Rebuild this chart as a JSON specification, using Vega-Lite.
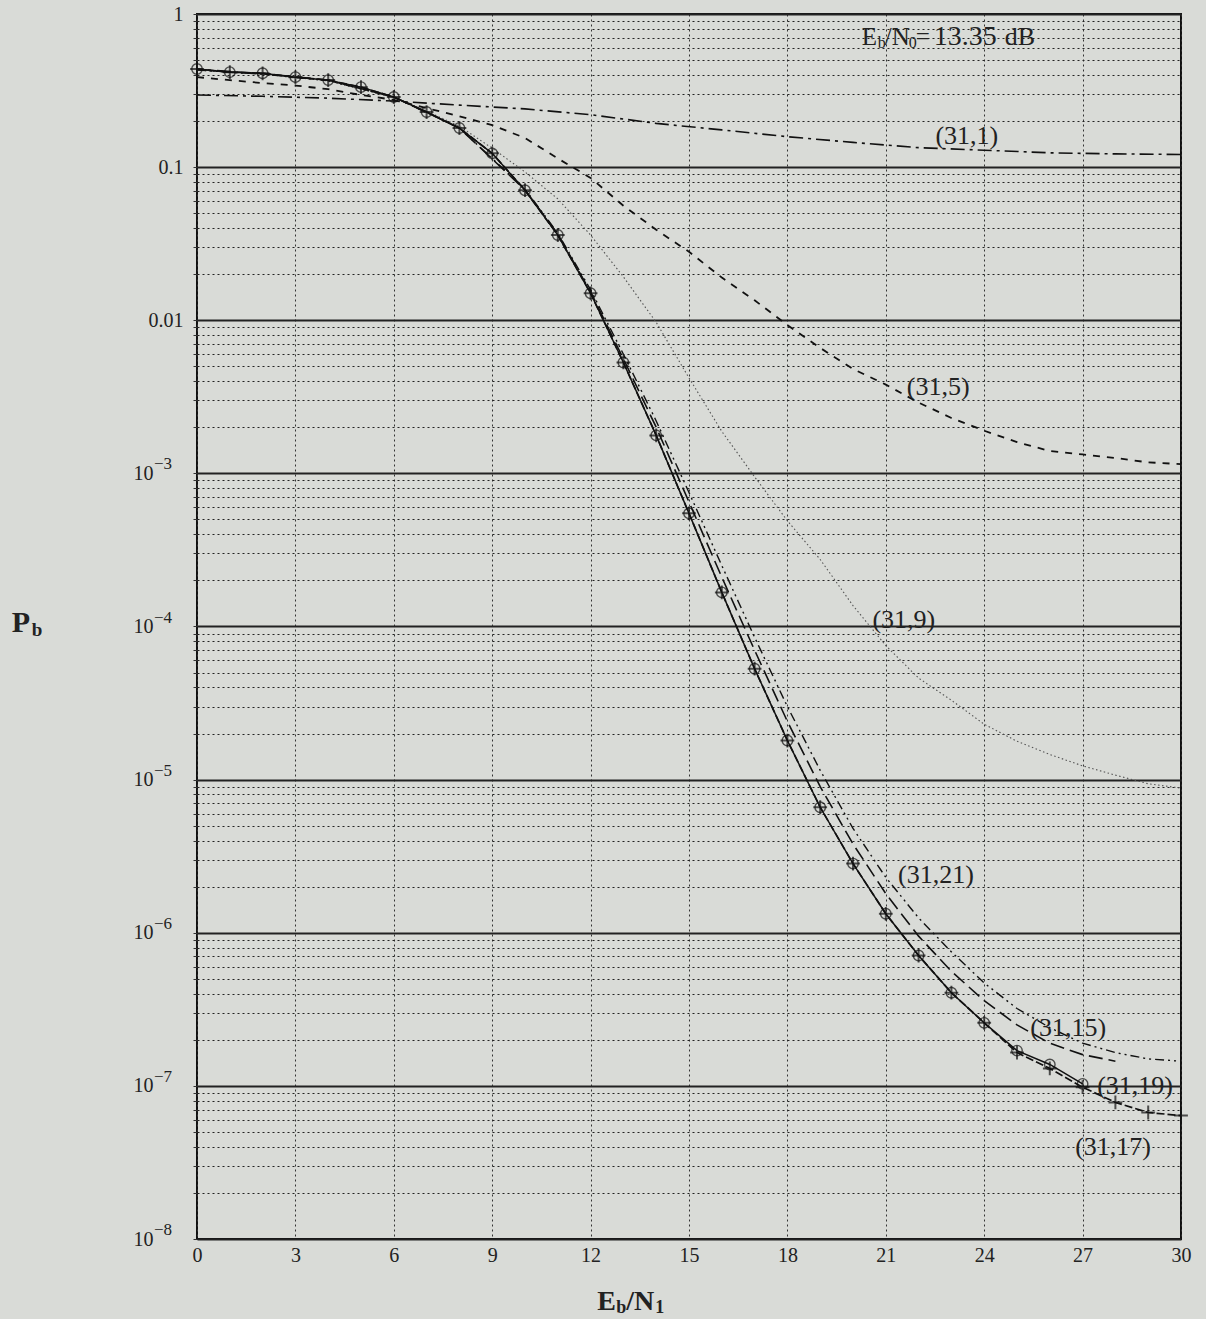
{
  "$schema": "https://vega.github.io/schema/vega-lite/v6.json",
  "width": 984,
  "height": 1225,
  "autosize": {"type": "none"},
  "padding": {"left": 197, "top": 14, "right": 25, "bottom": 80},
  "background": "#d9dbd7",
  "config": {
    "font": "Liberation Serif",
    "view": {"stroke": "#111111", "strokeWidth": 2},
    "axis": {"domain": false, "labelFont": "Liberation Serif", "labelColor": "#222222"}
  },
  "datasets": {
    "curves": [
      {"code": "(31,1)", "ebn": 0, "pb": 0.296},
      {"code": "(31,1)", "ebn": 2, "pb": 0.29},
      {"code": "(31,1)", "ebn": 4, "pb": 0.282},
      {"code": "(31,1)", "ebn": 6, "pb": 0.27},
      {"code": "(31,1)", "ebn": 8, "pb": 0.254},
      {"code": "(31,1)", "ebn": 10, "pb": 0.24},
      {"code": "(31,1)", "ebn": 12, "pb": 0.22},
      {"code": "(31,1)", "ebn": 14, "pb": 0.193},
      {"code": "(31,1)", "ebn": 16, "pb": 0.175},
      {"code": "(31,1)", "ebn": 18, "pb": 0.158},
      {"code": "(31,1)", "ebn": 20, "pb": 0.145},
      {"code": "(31,1)", "ebn": 22, "pb": 0.134},
      {"code": "(31,1)", "ebn": 24, "pb": 0.129},
      {"code": "(31,1)", "ebn": 26, "pb": 0.124},
      {"code": "(31,1)", "ebn": 28, "pb": 0.122},
      {"code": "(31,1)", "ebn": 30, "pb": 0.121},

      {"code": "(31,5)", "ebn": 0, "pb": 0.387},
      {"code": "(31,5)", "ebn": 1, "pb": 0.37},
      {"code": "(31,5)", "ebn": 2, "pb": 0.354},
      {"code": "(31,5)", "ebn": 3, "pb": 0.341},
      {"code": "(31,5)", "ebn": 4, "pb": 0.323},
      {"code": "(31,5)", "ebn": 5, "pb": 0.296},
      {"code": "(31,5)", "ebn": 6, "pb": 0.275},
      {"code": "(31,5)", "ebn": 7, "pb": 0.243},
      {"code": "(31,5)", "ebn": 8, "pb": 0.215},
      {"code": "(31,5)", "ebn": 9, "pb": 0.188},
      {"code": "(31,5)", "ebn": 10, "pb": 0.155},
      {"code": "(31,5)", "ebn": 11, "pb": 0.114},
      {"code": "(31,5)", "ebn": 12, "pb": 0.085},
      {"code": "(31,5)", "ebn": 13, "pb": 0.056},
      {"code": "(31,5)", "ebn": 14, "pb": 0.039},
      {"code": "(31,5)", "ebn": 15, "pb": 0.028},
      {"code": "(31,5)", "ebn": 16, "pb": 0.019},
      {"code": "(31,5)", "ebn": 17, "pb": 0.0135},
      {"code": "(31,5)", "ebn": 18, "pb": 0.0093},
      {"code": "(31,5)", "ebn": 19, "pb": 0.0066},
      {"code": "(31,5)", "ebn": 20, "pb": 0.0048},
      {"code": "(31,5)", "ebn": 21, "pb": 0.0038},
      {"code": "(31,5)", "ebn": 22, "pb": 0.0029},
      {"code": "(31,5)", "ebn": 23, "pb": 0.0023},
      {"code": "(31,5)", "ebn": 24, "pb": 0.0019},
      {"code": "(31,5)", "ebn": 25, "pb": 0.0016},
      {"code": "(31,5)", "ebn": 26, "pb": 0.0014},
      {"code": "(31,5)", "ebn": 27, "pb": 0.00133},
      {"code": "(31,5)", "ebn": 28, "pb": 0.00126},
      {"code": "(31,5)", "ebn": 29, "pb": 0.00118},
      {"code": "(31,5)", "ebn": 30, "pb": 0.00115},

      {"code": "(31,9)", "ebn": 0, "pb": 0.43},
      {"code": "(31,9)", "ebn": 2, "pb": 0.405},
      {"code": "(31,9)", "ebn": 4, "pb": 0.365},
      {"code": "(31,9)", "ebn": 6, "pb": 0.285},
      {"code": "(31,9)", "ebn": 7, "pb": 0.232},
      {"code": "(31,9)", "ebn": 8, "pb": 0.185},
      {"code": "(31,9)", "ebn": 9, "pb": 0.133},
      {"code": "(31,9)", "ebn": 10, "pb": 0.093},
      {"code": "(31,9)", "ebn": 11, "pb": 0.062},
      {"code": "(31,9)", "ebn": 12, "pb": 0.036},
      {"code": "(31,9)", "ebn": 13, "pb": 0.0192},
      {"code": "(31,9)", "ebn": 14, "pb": 0.0097},
      {"code": "(31,9)", "ebn": 15, "pb": 0.0042},
      {"code": "(31,9)", "ebn": 16, "pb": 0.00188},
      {"code": "(31,9)", "ebn": 17, "pb": 0.00095},
      {"code": "(31,9)", "ebn": 18, "pb": 0.00049},
      {"code": "(31,9)", "ebn": 19, "pb": 0.000274},
      {"code": "(31,9)", "ebn": 20, "pb": 0.000137},
      {"code": "(31,9)", "ebn": 21, "pb": 0.000075},
      {"code": "(31,9)", "ebn": 22, "pb": 0.000046},
      {"code": "(31,9)", "ebn": 23, "pb": 0.000033},
      {"code": "(31,9)", "ebn": 24, "pb": 0.000023},
      {"code": "(31,9)", "ebn": 25, "pb": 0.0000178},
      {"code": "(31,9)", "ebn": 26, "pb": 0.0000146},
      {"code": "(31,9)", "ebn": 27, "pb": 0.0000123},
      {"code": "(31,9)", "ebn": 28, "pb": 0.0000107},
      {"code": "(31,9)", "ebn": 29, "pb": 0.0000094},
      {"code": "(31,9)", "ebn": 30, "pb": 0.0000088},

      {"code": "(31,21)", "ebn": 0, "pb": 0.43},
      {"code": "(31,21)", "ebn": 2, "pb": 0.405},
      {"code": "(31,21)", "ebn": 4, "pb": 0.368},
      {"code": "(31,21)", "ebn": 6, "pb": 0.287},
      {"code": "(31,21)", "ebn": 8, "pb": 0.18},
      {"code": "(31,21)", "ebn": 10, "pb": 0.072},
      {"code": "(31,21)", "ebn": 11, "pb": 0.037},
      {"code": "(31,21)", "ebn": 12, "pb": 0.0158},
      {"code": "(31,21)", "ebn": 13, "pb": 0.006},
      {"code": "(31,21)", "ebn": 14, "pb": 0.0022},
      {"code": "(31,21)", "ebn": 15, "pb": 0.00075},
      {"code": "(31,21)", "ebn": 16, "pb": 0.00025},
      {"code": "(31,21)", "ebn": 17, "pb": 0.000085},
      {"code": "(31,21)", "ebn": 18, "pb": 0.00003},
      {"code": "(31,21)", "ebn": 19, "pb": 0.0000115},
      {"code": "(31,21)", "ebn": 20, "pb": 0.0000048},
      {"code": "(31,21)", "ebn": 21, "pb": 0.0000023},
      {"code": "(31,21)", "ebn": 22, "pb": 0.00000125},
      {"code": "(31,21)", "ebn": 23, "pb": 0.00000075},
      {"code": "(31,21)", "ebn": 24, "pb": 0.00000047},
      {"code": "(31,21)", "ebn": 25, "pb": 0.00000032},
      {"code": "(31,21)", "ebn": 26, "pb": 0.00000024},
      {"code": "(31,21)", "ebn": 27, "pb": 0.00000019},
      {"code": "(31,21)", "ebn": 28, "pb": 0.000000165},
      {"code": "(31,21)", "ebn": 29, "pb": 0.00000015},
      {"code": "(31,21)", "ebn": 30, "pb": 0.000000145},

      {"code": "(31,15)", "ebn": 0, "pb": 0.435},
      {"code": "(31,15)", "ebn": 2, "pb": 0.408},
      {"code": "(31,15)", "ebn": 4, "pb": 0.37},
      {"code": "(31,15)", "ebn": 6, "pb": 0.287},
      {"code": "(31,15)", "ebn": 8, "pb": 0.18},
      {"code": "(31,15)", "ebn": 10, "pb": 0.071},
      {"code": "(31,15)", "ebn": 11, "pb": 0.0365},
      {"code": "(31,15)", "ebn": 12, "pb": 0.0153},
      {"code": "(31,15)", "ebn": 13, "pb": 0.0056},
      {"code": "(31,15)", "ebn": 14, "pb": 0.002},
      {"code": "(31,15)", "ebn": 15, "pb": 0.00065},
      {"code": "(31,15)", "ebn": 16, "pb": 0.00021},
      {"code": "(31,15)", "ebn": 17, "pb": 0.00007},
      {"code": "(31,15)", "ebn": 18, "pb": 0.000024},
      {"code": "(31,15)", "ebn": 19, "pb": 0.000009},
      {"code": "(31,15)", "ebn": 20, "pb": 0.0000038},
      {"code": "(31,15)", "ebn": 21, "pb": 0.0000018},
      {"code": "(31,15)", "ebn": 22, "pb": 0.00000095},
      {"code": "(31,15)", "ebn": 23, "pb": 0.00000056},
      {"code": "(31,15)", "ebn": 24, "pb": 0.00000036},
      {"code": "(31,15)", "ebn": 25, "pb": 0.00000025},
      {"code": "(31,15)", "ebn": 26, "pb": 0.00000019},
      {"code": "(31,15)", "ebn": 27, "pb": 0.00000016},
      {"code": "(31,15)", "ebn": 28, "pb": 0.000000145},

      {"code": "(31,19)", "ebn": 0, "pb": 0.437},
      {"code": "(31,19)", "ebn": 1, "pb": 0.417},
      {"code": "(31,19)", "ebn": 2, "pb": 0.41},
      {"code": "(31,19)", "ebn": 3, "pb": 0.387},
      {"code": "(31,19)", "ebn": 4, "pb": 0.37},
      {"code": "(31,19)", "ebn": 5, "pb": 0.333},
      {"code": "(31,19)", "ebn": 6, "pb": 0.287},
      {"code": "(31,19)", "ebn": 7, "pb": 0.229},
      {"code": "(31,19)", "ebn": 8, "pb": 0.18},
      {"code": "(31,19)", "ebn": 9, "pb": 0.123},
      {"code": "(31,19)", "ebn": 10, "pb": 0.0707},
      {"code": "(31,19)", "ebn": 11, "pb": 0.036},
      {"code": "(31,19)", "ebn": 12, "pb": 0.015},
      {"code": "(31,19)", "ebn": 13, "pb": 0.0053},
      {"code": "(31,19)", "ebn": 14, "pb": 0.00177},
      {"code": "(31,19)", "ebn": 15, "pb": 0.000548},
      {"code": "(31,19)", "ebn": 16, "pb": 0.000167},
      {"code": "(31,19)", "ebn": 17, "pb": 0.000053},
      {"code": "(31,19)", "ebn": 18, "pb": 0.000018},
      {"code": "(31,19)", "ebn": 19, "pb": 0.0000066},
      {"code": "(31,19)", "ebn": 20, "pb": 0.00000283},
      {"code": "(31,19)", "ebn": 21, "pb": 0.00000133},
      {"code": "(31,19)", "ebn": 22, "pb": 0.00000071},
      {"code": "(31,19)", "ebn": 23, "pb": 0.000000406},
      {"code": "(31,19)", "ebn": 24, "pb": 0.000000258},
      {"code": "(31,19)", "ebn": 25, "pb": 0.00000017},
      {"code": "(31,19)", "ebn": 26, "pb": 0.000000138},
      {"code": "(31,19)", "ebn": 27, "pb": 0.000000103},

      {"code": "(31,17)", "ebn": 0, "pb": 0.437},
      {"code": "(31,17)", "ebn": 1, "pb": 0.417},
      {"code": "(31,17)", "ebn": 2, "pb": 0.41},
      {"code": "(31,17)", "ebn": 3, "pb": 0.387},
      {"code": "(31,17)", "ebn": 4, "pb": 0.37},
      {"code": "(31,17)", "ebn": 5, "pb": 0.333},
      {"code": "(31,17)", "ebn": 6, "pb": 0.287},
      {"code": "(31,17)", "ebn": 7, "pb": 0.229},
      {"code": "(31,17)", "ebn": 8, "pb": 0.18},
      {"code": "(31,17)", "ebn": 9, "pb": 0.123},
      {"code": "(31,17)", "ebn": 10, "pb": 0.0707},
      {"code": "(31,17)", "ebn": 11, "pb": 0.036},
      {"code": "(31,17)", "ebn": 12, "pb": 0.015},
      {"code": "(31,17)", "ebn": 13, "pb": 0.0053},
      {"code": "(31,17)", "ebn": 14, "pb": 0.00177},
      {"code": "(31,17)", "ebn": 15, "pb": 0.000548},
      {"code": "(31,17)", "ebn": 16, "pb": 0.000167},
      {"code": "(31,17)", "ebn": 17, "pb": 0.000053},
      {"code": "(31,17)", "ebn": 18, "pb": 0.000018},
      {"code": "(31,17)", "ebn": 19, "pb": 0.0000066},
      {"code": "(31,17)", "ebn": 20, "pb": 0.00000283},
      {"code": "(31,17)", "ebn": 21, "pb": 0.00000133},
      {"code": "(31,17)", "ebn": 22, "pb": 0.00000071},
      {"code": "(31,17)", "ebn": 23, "pb": 0.000000406},
      {"code": "(31,17)", "ebn": 24, "pb": 0.000000258},
      {"code": "(31,17)", "ebn": 25, "pb": 0.000000165},
      {"code": "(31,17)", "ebn": 26, "pb": 0.00000013},
      {"code": "(31,17)", "ebn": 27, "pb": 0.000000098},
      {"code": "(31,17)", "ebn": 28, "pb": 0.000000078},
      {"code": "(31,17)", "ebn": 29, "pb": 0.000000067},
      {"code": "(31,17)", "ebn": 30, "pb": 0.000000064}
    ],
    "notes": [
      {"note": "(31,1)", "ebn": 23.47, "pb": 0.159},
      {"note": "(31,5)", "ebn": 22.6, "pb": 0.00364},
      {"note": "(31,9)", "ebn": 21.55, "pb": 0.00011},
      {"note": "(31,21)", "ebn": 22.53, "pb": 0.0000024},
      {"note": "(31,15)", "ebn": 26.56, "pb": 0.00000024},
      {"note": "(31,19)", "ebn": 28.6, "pb": 0.0000001},
      {"note": "(31,17)", "ebn": 27.93, "pb": 0.00000004}
    ],
    "exponents": [
      {"sup": "−3", "ebn": 0, "pb": 0.001},
      {"sup": "−4", "ebn": 0, "pb": 0.0001},
      {"sup": "−5", "ebn": 0, "pb": 0.00001},
      {"sup": "−6", "ebn": 0, "pb": 0.000001},
      {"sup": "−7", "ebn": 0, "pb": 0.0000001},
      {"sup": "−8", "ebn": 0, "pb": 0.00000001}
    ],
    "anchors": [
      {"item": "ebn0", "ebn": 20.27, "pb": 0.707},
      {"item": "ytitle", "ebn": -5.65, "pb": 0.000105},
      {"item": "xtitle", "ebn": 12.2, "pb": 0.0000000039}
    ]
  },
  "layer": [
    {
      "data": {"name": "curves"},
      "transform": [{"filter": "datum.code === '(31,1)'"}],
      "mark": {"type": "line", "color": "#111111", "strokeWidth": 1.6, "strokeDash": [14, 5, 3, 5]},
      "encoding": {
        "x": {
          "field": "ebn", "type": "quantitative",
          "scale": {"domain": [0, 30], "nice": false, "zero": false},
          "axis": {
            "values": [0, 3, 6, 9, 12, 15, 18, 21, 24, 27, 30],
            "title": null,
            "grid": true, "gridDash": [2, 3], "gridColor": "#333333", "gridWidth": 1,
            "ticks": false, "labelFontSize": 20, "labelPadding": 6, "labelFlush": false
          }
        },
        "y": {
          "field": "pb", "type": "quantitative",
          "scale": {"type": "log", "domain": [1e-8, 1], "nice": false},
          "axis": {
            "values": [
              1e-8, 2e-8, 3e-8, 4e-8, 5e-8, 6e-8, 7e-8, 8e-8, 9e-8,
              1e-7, 2e-7, 3e-7, 4e-7, 5e-7, 6e-7, 7e-7, 8e-7, 9e-7,
              1e-6, 2e-6, 3e-6, 4e-6, 5e-6, 6e-6, 7e-6, 8e-6, 9e-6,
              1e-5, 2e-5, 3e-5, 4e-5, 5e-5, 6e-5, 7e-5, 8e-5, 9e-5,
              1e-4, 2e-4, 3e-4, 4e-4, 5e-4, 6e-4, 7e-4, 8e-4, 9e-4,
              1e-3, 2e-3, 3e-3, 4e-3, 5e-3, 6e-3, 7e-3, 8e-3, 9e-3,
              0.01, 0.02, 0.03, 0.04, 0.05, 0.06, 0.07, 0.08, 0.09,
              0.1, 0.2, 0.3, 0.4, 0.5, 0.6, 0.7, 0.8, 0.9, 1
            ],
            "title": null,
            "labelOverlap": false,
            "labelBound": false,
            "labelFontSize": 20,
            "labelPadding": {"condition": {"test": "datum.value < 0.005", "value": 40}, "value": 10},
            "labelExpr": "abs(log(datum.value)/LN10 - round(log(datum.value)/LN10)) < 1e-6 ? (datum.value >= 0.01 ? '' + datum.value : '10') : ''",
            "grid": true,
            "gridColor": "#222222",
            "gridDash": {"condition": {"test": "abs(log(datum.value)/LN10 - round(log(datum.value)/LN10)) < 1e-6", "value": []}, "value": [2, 3]},
            "gridWidth": {"condition": {"test": "abs(log(datum.value)/LN10 - round(log(datum.value)/LN10)) < 1e-6", "value": 1.8}, "value": 1},
            "tickSize": 4, "tickColor": "#333333"
          }
        }
      }
    },
    {
      "data": {"name": "curves"},
      "transform": [{"filter": "datum.code === '(31,5)'"}],
      "mark": {"type": "line", "color": "#111111", "strokeWidth": 1.8, "strokeDash": [7, 7]},
      "encoding": {"x": {"field": "ebn", "type": "quantitative"}, "y": {"field": "pb", "type": "quantitative"}}
    },
    {
      "data": {"name": "curves"},
      "transform": [{"filter": "datum.code === '(31,9)'"}],
      "mark": {"type": "line", "color": "#555555", "strokeWidth": 1.1, "strokeDash": [1.5, 2.5]},
      "encoding": {"x": {"field": "ebn", "type": "quantitative"}, "y": {"field": "pb", "type": "quantitative"}}
    },
    {
      "data": {"name": "curves"},
      "transform": [{"filter": "datum.code === '(31,21)'"}],
      "mark": {"type": "line", "color": "#111111", "strokeWidth": 1.4, "strokeDash": [9, 4, 2, 4, 2, 4]},
      "encoding": {"x": {"field": "ebn", "type": "quantitative"}, "y": {"field": "pb", "type": "quantitative"}}
    },
    {
      "data": {"name": "curves"},
      "transform": [{"filter": "datum.code === '(31,15)'"}],
      "mark": {"type": "line", "color": "#111111", "strokeWidth": 1.6, "strokeDash": [14, 6]},
      "encoding": {"x": {"field": "ebn", "type": "quantitative"}, "y": {"field": "pb", "type": "quantitative"}}
    },
    {
      "data": {"name": "curves"},
      "transform": [{"filter": "datum.code === '(31,19)'"}],
      "mark": {"type": "line", "color": "#111111", "strokeWidth": 1.5},
      "encoding": {"x": {"field": "ebn", "type": "quantitative"}, "y": {"field": "pb", "type": "quantitative"}}
    },
    {
      "data": {"name": "curves"},
      "transform": [{"filter": "datum.code === '(31,17)'"}],
      "mark": {"type": "line", "color": "#111111", "strokeWidth": 1.7, "strokeDash": [8, 3]},
      "encoding": {"x": {"field": "ebn", "type": "quantitative"}, "y": {"field": "pb", "type": "quantitative"}}
    },
    {
      "data": {"name": "curves"},
      "transform": [{"filter": "datum.code === '(31,19)'"}],
      "mark": {"type": "point", "shape": "circle", "filled": false, "size": 110, "stroke": "#111111", "strokeWidth": 1.4},
      "encoding": {"x": {"field": "ebn", "type": "quantitative"}, "y": {"field": "pb", "type": "quantitative"}}
    },
    {
      "data": {"name": "curves"},
      "transform": [{"filter": "datum.code === '(31,17)'"}],
      "mark": {"type": "point", "shape": "M-1,0L1,0M0,-1L0,1", "filled": false, "size": 190, "stroke": "#111111", "strokeWidth": 2},
      "encoding": {"x": {"field": "ebn", "type": "quantitative"}, "y": {"field": "pb", "type": "quantitative"}}
    },
    {
      "data": {"name": "notes"},
      "mark": {"type": "text", "font": "Liberation Serif", "fontSize": 26, "color": "#222222", "align": "center", "baseline": "middle"},
      "encoding": {
        "x": {"field": "ebn", "type": "quantitative"},
        "y": {"field": "pb", "type": "quantitative"},
        "text": {"field": "note", "type": "nominal"}
      }
    },
    {
      "data": {"name": "exponents"},
      "mark": {"type": "text", "font": "Liberation Serif", "fontSize": 17, "color": "#222222", "align": "left", "baseline": "middle", "dx": -43, "dy": -9},
      "encoding": {
        "x": {"field": "ebn", "type": "quantitative"},
        "y": {"field": "pb", "type": "quantitative"},
        "text": {"field": "sup", "type": "nominal"}
      }
    },
    {
      "data": {"name": "anchors"},
      "transform": [{"filter": "datum.item === 'ebn0'"}],
      "layer": [
        {"mark": {"type": "text", "text": "E", "font": "Liberation Serif", "fontSize": 25, "color": "#222222", "align": "left", "baseline": "middle"}},
        {"mark": {"type": "text", "text": "b", "font": "Liberation Serif", "fontSize": 16, "color": "#222222", "align": "left", "baseline": "middle", "dx": 16, "dy": 6}},
        {"mark": {"type": "text", "text": "/N", "font": "Liberation Serif", "fontSize": 25, "color": "#222222", "align": "left", "baseline": "middle", "dx": 23}},
        {"mark": {"type": "text", "text": "0", "font": "Liberation Serif", "fontSize": 16, "color": "#222222", "align": "left", "baseline": "middle", "dx": 47, "dy": 6}},
        {"mark": {"type": "text", "text": "=", "font": "Liberation Serif", "fontSize": 25, "color": "#222222", "align": "left", "baseline": "middle", "dx": 54}},
        {"mark": {"type": "text", "text": "13.35", "font": "Liberation Serif", "fontSize": 28, "color": "#222222", "align": "left", "baseline": "middle", "dx": 72}},
        {"mark": {"type": "text", "text": "dB", "font": "Liberation Serif", "fontSize": 26, "color": "#222222", "align": "left", "baseline": "middle", "dx": 143}}
      ],
      "encoding": {"x": {"field": "ebn", "type": "quantitative"}, "y": {"field": "pb", "type": "quantitative"}}
    },
    {
      "data": {"name": "anchors"},
      "transform": [{"filter": "datum.item === 'ytitle'"}],
      "layer": [
        {"mark": {"type": "text", "text": "P", "font": "Liberation Serif", "fontSize": 30, "fontWeight": "bold", "color": "#222222", "align": "left", "baseline": "middle"}},
        {"mark": {"type": "text", "text": "b", "font": "Liberation Serif", "fontSize": 19, "fontWeight": "bold", "color": "#222222", "align": "left", "baseline": "middle", "dx": 20, "dy": 7}}
      ],
      "encoding": {"x": {"field": "ebn", "type": "quantitative"}, "y": {"field": "pb", "type": "quantitative"}}
    },
    {
      "data": {"name": "anchors"},
      "transform": [{"filter": "datum.item === 'xtitle'"}],
      "layer": [
        {"mark": {"type": "text", "text": "E", "font": "Liberation Serif", "fontSize": 28, "fontWeight": "bold", "color": "#222222", "align": "left", "baseline": "middle"}},
        {"mark": {"type": "text", "text": "b", "font": "Liberation Serif", "fontSize": 18, "fontWeight": "bold", "color": "#222222", "align": "left", "baseline": "middle", "dx": 19, "dy": 6}},
        {"mark": {"type": "text", "text": "/N", "font": "Liberation Serif", "fontSize": 28, "fontWeight": "bold", "color": "#222222", "align": "left", "baseline": "middle", "dx": 29}},
        {"mark": {"type": "text", "text": "1", "font": "Liberation Serif", "fontSize": 18, "fontWeight": "bold", "color": "#222222", "align": "left", "baseline": "middle", "dx": 58, "dy": 6}}
      ],
      "encoding": {"x": {"field": "ebn", "type": "quantitative"}, "y": {"field": "pb", "type": "quantitative"}}
    }
  ]
}
